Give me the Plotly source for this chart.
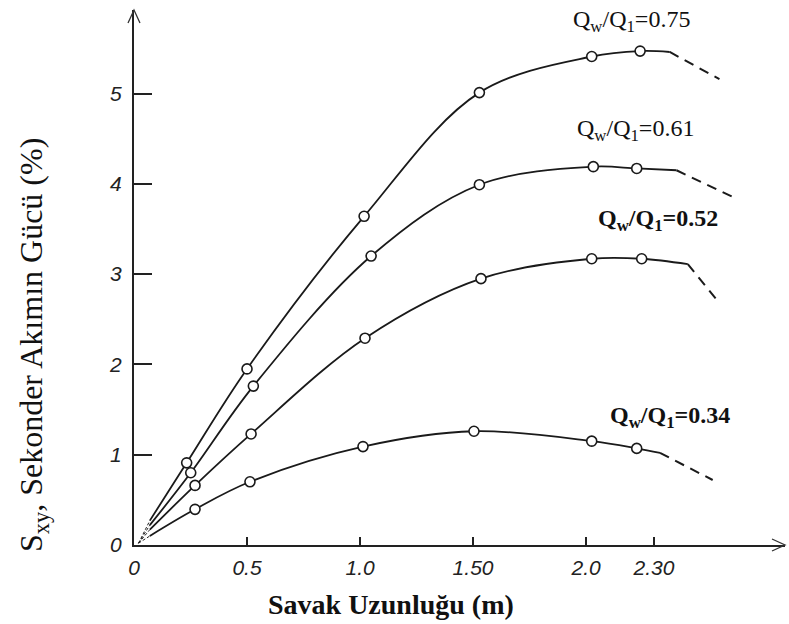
import plotly.graph_objects as go

# ---- data ----
ratio_labels = ["0.75", "0.61", "0.52", "0.34"]

x_075 = [0.233, 0.50, 1.018, 1.528, 2.025, 2.239]
y_075 = [0.91, 1.95, 3.64, 5.01, 5.41, 5.47]
x_061 = [0.251, 0.528, 1.049, 1.528, 2.032, 2.224]
y_061 = [0.80, 1.76, 3.20, 3.99, 4.19, 4.17]
x_052 = [0.27, 0.518, 1.022, 1.535, 2.025, 2.246]
y_052 = [0.66, 1.23, 2.29, 2.95, 3.17, 3.17]
x_034 = [0.27, 0.513, 1.013, 1.504, 2.025, 2.224]
y_034 = [0.395, 0.70, 1.09, 1.26, 1.15, 1.07]

# curve starts (near origin) and ends of solid / dashed parts
start_x = [0.07, 0.07, 0.07, 0.07]
start_y = [0.27, 0.22, 0.17, 0.10]
solid_end_x = [2.37, 2.40, 2.45, 2.327]
solid_end_y = [5.46, 4.15, 3.11, 1.02]
dash_end_x = [2.59, 2.645, 2.59, 2.56]
dash_end_y = [5.16, 3.86, 2.68, 0.72]
origin_x = [0.02, 0.02, 0.02, 0.02]
origin_y = [0.02, 0.02, 0.02, 0.02]

label_x = [2.20, 2.22, 2.32, 2.37]
label_y = [5.80, 4.60, 3.60, 1.42]
label_bold = [False, False, True, True]

x_tickvals = [0, 0.5, 1.0, 1.5, 2.0, 2.3]
x_ticktext = ["0", "0.5", "1.0", "1.50", "2.0", "2.30"]
y_tickvals = [0, 1, 2, 3, 4, 5]
y_ticktext = ["0", "1", "2", "3", "4", "5"]

series_x = [x_075, x_061, x_052, x_034]
series_y = [y_075, y_061, y_052, y_034]

fig = go.Figure()
for i in range(4):
    # dashed lead-in near origin
    fig.add_trace(go.Scatter(x=[origin_x[i], start_x[i]], y=[origin_y[i], start_y[i]],
                             mode="lines", line=dict(color="#222", width=1, dash="3px,2px"),
                             showlegend=False, hoverinfo="skip"))
    # solid fitted curve
    cx = [start_x[i]] + series_x[i] + [solid_end_x[i]]
    cy = [start_y[i]] + series_y[i] + [solid_end_y[i]]
    fig.add_trace(go.Scatter(x=cx, y=cy, mode="lines",
                             line=dict(color="#1a1a1a", width=1.8, shape="spline", smoothing=1.0),
                             showlegend=False, hoverinfo="skip"))
    # dashed extrapolation
    fig.add_trace(go.Scatter(x=[solid_end_x[i], dash_end_x[i]], y=[solid_end_y[i], dash_end_y[i]],
                             mode="lines", line=dict(color="#1a1a1a", width=2, dash="10px,7px"),
                             showlegend=False, hoverinfo="skip"))
    # measured points
    fig.add_trace(go.Scatter(x=series_x[i], y=series_y[i], mode="markers",
                             marker=dict(symbol="circle", size=10, color="white",
                                         line=dict(color="#1a1a1a", width=1.6)),
                             showlegend=False, cliponaxis=False))

for i in range(4):
    fig.add_annotation(x=label_x[i], y=label_y[i], xref="x", yref="y", showarrow=False,
                       text="Q<sub>w</sub>/Q<sub>1</sub>=" + ratio_labels[i],
                       font=dict(family="Liberation Serif", size=24, color="#111",
                                 weight="bold" if label_bold[i] else "normal"))

# axis titles
fig.add_annotation(x=0.395, y=-0.112, xref="paper", yref="paper", showarrow=False,
                   text="Savak Uzunluğu (m)", yanchor="middle",
                   font=dict(family="Liberation Serif", size=28, color="#111", weight="bold"))
fig.add_annotation(x=-0.188, y=0.374, xref="paper", yref="paper", showarrow=False,
                   text="S<sub>xy</sub>, Sekonder Akımın Gücü (%)", textangle=-90,
                   font=dict(family="Liberation Serif", size=32, color="#111"))

# axis arrowheads
fig.add_shape(type="path", xref="paper", yref="paper", xsizemode="pixel", ysizemode="pixel",
              xanchor=1, yanchor=0, path="M -13,6 L 0,0 L -13,-6",
              line=dict(color="#333", width=1.3))
fig.add_shape(type="path", xref="paper", yref="paper", xsizemode="pixel", ysizemode="pixel",
              xanchor=0, yanchor=1, path="M -6,-13 L 0,0 L 6,-13",
              line=dict(color="#333", width=1.3))

tickfont = dict(family="Liberation Sans", size=21, color="#222", style="italic")
fig.update_xaxes(range=[0, 2.88], showgrid=False, zeroline=False, showline=True,
                 linecolor="#222", linewidth=2, ticks="inside", ticklen=8, tickwidth=1.5,
                 tickcolor="#222", tickvals=x_tickvals, ticktext=x_ticktext,
                 tickfont=tickfont, ticklabelstandoff=3)
fig.update_yaxes(range=[0, 5.925], showgrid=False, zeroline=False, showline=True,
                 linecolor="#222", linewidth=2, ticks="inside", ticklen=18, tickwidth=2,
                 tickcolor="#222", tickvals=y_tickvals, ticktext=y_ticktext,
                 tickfont=tickfont, ticklabelstandoff=6)
fig.update_layout(width=789, height=624, margin=dict(l=134, r=4, t=10, b=79),
                  paper_bgcolor="white", plot_bgcolor="white")
fig.write_html("out.html")
